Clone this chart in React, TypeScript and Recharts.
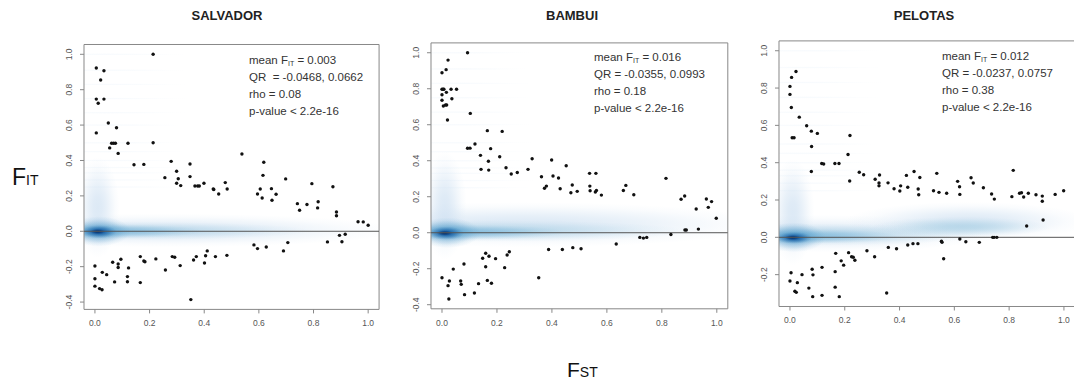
import React from 'react';
import { ScatterChart, Scatter, XAxis, YAxis, ReferenceArea, ReferenceLine } from 'recharts';

// ---------- data ----------
const X_TICKS = [0, 0.2, 0.4, 0.6, 0.8, 1.0];
const X_DOMAIN: [number, number] = [-0.04, 1.04];
const Y_TICKS_A = [-0.4, -0.2, 0, 0.2, 0.4, 0.6, 0.8, 1.0];
const Y_TICKS_B = [-0.2, 0, 0.2, 0.4, 0.6, 0.8, 1.0];

const salvadorPoints: [number, number][] = [
  [0.213, 1.0], [0.005, 0.923], [0.033, 0.907], [0.021, 0.855], [0.005, 0.747], [0.033, 0.747], [0.012, 0.723],
  [0.049, 0.612], [0.079, 0.585], [0.005, 0.556], [0.061, 0.497], [0.068, 0.497], [0.075, 0.497], [0.054, 0.471],
  [0.121, 0.497], [0.085, 0.44], [0.213, 0.5], [0.143, 0.376], [0.179, 0.378], [0.279, 0.395], [0.348, 0.38],
  [0.256, 0.303], [0.299, 0.339], [0.305, 0.297], [0.299, 0.271], [0.314, 0.258], [0.348, 0.309], [0.366, 0.256],
  [0.376, 0.256], [0.382, 0.256], [0.399, 0.271], [0.433, 0.239], [0.435, 0.236], [0.453, 0.211], [0.477, 0.275],
  [0.484, 0.239], [0.538, 0.437], [0.618, 0.39], [0.615, 0.316], [0.605, 0.239], [0.595, 0.211], [0.612, 0.188],
  [0.646, 0.241], [0.648, 0.175], [0.663, 0.209], [0.698, 0.296], [0.741, 0.156], [0.749, 0.119], [0.776, 0.151],
  [0.794, 0.269], [0.817, 0.167], [0.815, 0.132], [0.871, 0.252], [0.884, 0.109], [0.884, 0.088], [0.963, 0.054],
  [0.982, 0.053], [1.0, 0.034],
  [0.0, -0.196], [0.0, -0.268], [0.0, -0.31], [0.017, -0.324], [0.026, -0.33], [0.027, -0.232], [0.043, -0.245],
  [0.065, -0.175], [0.072, -0.286], [0.085, -0.185], [0.085, -0.205], [0.095, -0.158], [0.123, -0.207],
  [0.119, -0.256], [0.119, -0.285], [0.166, -0.143], [0.166, -0.29], [0.179, -0.168], [0.183, -0.172],
  [0.223, -0.156], [0.258, -0.219], [0.283, -0.143], [0.292, -0.147], [0.312, -0.194], [0.351, -0.386],
  [0.361, -0.162], [0.371, -0.143], [0.401, -0.179], [0.405, -0.138], [0.411, -0.111], [0.441, -0.143],
  [0.483, -0.136], [0.582, -0.077], [0.595, -0.098], [0.627, -0.089], [0.69, -0.111], [0.706, -0.064],
  [0.851, -0.06], [0.895, -0.023], [0.916, -0.017], [0.904, -0.059],
];

const bambuiPoints: [number, number][] = [
  [0.093, 1.0], [0.022, 0.959], [0.015, 0.906], [0.0, 0.889], [0.0, 0.797], [0.004, 0.797], [0.007, 0.797],
  [0.016, 0.78], [0.033, 0.797], [0.053, 0.797], [0.0, 0.767], [0.036, 0.744], [0.0, 0.736], [0.005, 0.704],
  [0.013, 0.71], [0.017, 0.71], [0.02, 0.626], [0.103, 0.663], [0.165, 0.567], [0.219, 0.563], [0.093, 0.469],
  [0.102, 0.47], [0.12, 0.493], [0.177, 0.467], [0.14, 0.43], [0.169, 0.397], [0.21, 0.422], [0.142, 0.352],
  [0.17, 0.348], [0.233, 0.361], [0.252, 0.326], [0.274, 0.335], [0.313, 0.352], [0.328, 0.411], [0.362, 0.311],
  [0.373, 0.247], [0.38, 0.259], [0.399, 0.404], [0.404, 0.315], [0.424, 0.304], [0.43, 0.244], [0.452, 0.372],
  [0.474, 0.265], [0.469, 0.222], [0.492, 0.23], [0.537, 0.33], [0.56, 0.33], [0.538, 0.259], [0.539, 0.233],
  [0.558, 0.226], [0.562, 0.235], [0.58, 0.209], [0.66, 0.235], [0.669, 0.263], [0.698, 0.211], [0.815, 0.302],
  [0.87, 0.186], [0.883, 0.204], [0.925, 0.132], [0.962, 0.187], [0.969, 0.141], [0.981, 0.173], [0.998, 0.08],
  [0.933, 0.02], [0.884, 0.015], [0.889, 0.015], [0.833, -0.01],
  [0.0, -0.25], [0.022, -0.294], [0.027, -0.268], [0.025, -0.368], [0.041, -0.202], [0.068, -0.268],
  [0.07, -0.287], [0.08, -0.174], [0.082, -0.344], [0.118, -0.335], [0.133, -0.283], [0.148, -0.142],
  [0.159, -0.114], [0.159, -0.189], [0.171, -0.131], [0.165, -0.265], [0.18, -0.281], [0.195, -0.144],
  [0.228, -0.194], [0.237, -0.124], [0.245, -0.106], [0.352, -0.25], [0.388, -0.093], [0.438, -0.093],
  [0.476, -0.083], [0.506, -0.089], [0.634, -0.063], [0.72, -0.026], [0.733, -0.03], [0.745, -0.026],
];

const pelotasPoints: [number, number][] = [
  [0.022, 0.889], [0.006, 0.857], [0.0, 0.809], [0.0, 0.766], [0.005, 0.696], [0.008, 0.534], [0.015, 0.534],
  [0.034, 0.644], [0.061, 0.598], [0.078, 0.569], [0.1, 0.557], [0.079, 0.487], [0.078, 0.353], [0.116, 0.396],
  [0.123, 0.393], [0.164, 0.396], [0.179, 0.396], [0.212, 0.444], [0.219, 0.546], [0.218, 0.302], [0.253, 0.349],
  [0.269, 0.335], [0.311, 0.311], [0.327, 0.334], [0.325, 0.291], [0.325, 0.276], [0.358, 0.292], [0.38, 0.26],
  [0.401, 0.248], [0.404, 0.276], [0.425, 0.332], [0.43, 0.268], [0.453, 0.353], [0.468, 0.259], [0.47, 0.228],
  [0.474, 0.321], [0.524, 0.25], [0.536, 0.343], [0.544, 0.241], [0.572, 0.236], [0.612, 0.3], [0.619, 0.271],
  [0.62, 0.23], [0.661, 0.319], [0.669, 0.291], [0.706, 0.266], [0.736, 0.232], [0.746, 0.205], [0.815, 0.359],
  [0.81, 0.218], [0.838, 0.236], [0.845, 0.239], [0.853, 0.216], [0.87, 0.236], [0.898, 0.228], [0.921, 0.221],
  [0.921, 0.193], [0.968, 0.23], [0.999, 0.25], [0.924, 0.093], [0.864, 0.061],
  [0.553, -0.021], [0.555, -0.027], [0.62, -0.009], [0.642, -0.024], [0.691, -0.027], [0.74, 0.0], [0.745, 0.0],
  [0.755, 0.0], [0.561, -0.115], [0.43, -0.041], [0.449, -0.034], [0.467, -0.034], [0.359, -0.054],
  [0.389, -0.061], [0.281, -0.072], [0.309, -0.104], [0.167, -0.086], [0.214, -0.082], [0.225, -0.104],
  [0.231, -0.107], [0.237, -0.123], [0.187, -0.126], [0.196, -0.149], [0.117, -0.161], [0.081, -0.171],
  [0.084, -0.201], [0.044, -0.2], [0.004, -0.19], [0.0, -0.234], [0.027, -0.243], [0.018, -0.289],
  [0.023, -0.295], [0.069, -0.272], [0.083, -0.318], [0.117, -0.311], [0.165, -0.184], [0.165, -0.267],
  [0.18, -0.318], [0.353, -0.298],
];

// density regions (data coordinates) with intensity level
type D = { x1: number; x2: number; y1: number; y2: number; level: number };
const streakLevels = [1.0, 0.91, 0.83, 0.75, 0.67, 0.6, 0.5, 0.45, 0.4, 0.36, 0.33, 0.29, 0.25];
const salvadorDensity: D[] = [
  { x1: -0.6, x2: 1.12, y1: -0.09, y2: 0.1, level: 1 },
  { x1: -0.07, x2: 0.09, y1: -0.15, y2: 0.42, level: 1 },
  { x1: -0.6, x2: 0.8, y1: -0.05, y2: 0.055, level: 2 },
  { x1: -0.3, x2: 0.4, y1: -0.04, y2: 0.04, level: 3 },
  { x1: -0.1, x2: 0.13, y1: -0.085, y2: 0.085, level: 4 },
  { x1: -0.05, x2: 0.08, y1: -0.04, y2: 0.035, level: 6 },
  { x1: -0.02, x2: 0.04, y1: -0.018, y2: 0.014, level: 7 },
];
const bambuiDensity: D[] = [
  { x1: -0.6, x2: 1.2, y1: -0.08, y2: 0.17, level: 1 },
  { x1: -0.07, x2: 0.09, y1: -0.15, y2: 0.45, level: 1 },
  { x1: -0.6, x2: 0.9, y1: -0.05, y2: 0.07, level: 2 },
  { x1: -0.3, x2: 0.45, y1: -0.04, y2: 0.045, level: 3 },
  { x1: -0.1, x2: 0.14, y1: -0.085, y2: 0.085, level: 4 },
  { x1: -0.05, x2: 0.08, y1: -0.04, y2: 0.035, level: 6 },
  { x1: -0.02, x2: 0.04, y1: -0.018, y2: 0.014, level: 7 },
];
const pelotasDensity: D[] = [
  { x1: -0.5, x2: 0.75, y1: -0.08, y2: 0.12, level: 1 },
  { x1: 0.2, x2: 1.1, y1: -0.02, y2: 0.19, level: 1 },
  { x1: -0.07, x2: 0.09, y1: -0.15, y2: 0.42, level: 1 },
  { x1: -0.5, x2: 0.7, y1: -0.045, y2: 0.075, level: 2 },
  { x1: 0.3, x2: 0.95, y1: 0.0, y2: 0.11, level: 2 },
  { x1: -0.3, x2: 0.4, y1: -0.035, y2: 0.045, level: 3 },
  { x1: -0.1, x2: 0.13, y1: -0.08, y2: 0.08, level: 4 },
  { x1: -0.05, x2: 0.08, y1: -0.035, y2: 0.03, level: 6 },
  { x1: -0.02, x2: 0.04, y1: -0.016, y2: 0.013, level: 7 },
];

const LEVEL_COLORS = ['#deebf7', '#c6dbef', '#9ecae1', '#6baed6', '#4292c6', '#2171b5', '#08519c', '#08306b'];
const LEVEL_OPACITY = [0.22, 0.6, 0.6, 0.6, 0.65, 0.8, 0.85, 0.9];

const FONT = '"Liberation Sans", Arial, sans-serif';

const Blob = (props: any) => {
  const { x, y, width, height, level, gid, clipPath } = props;
  if (x == null || y == null) return null;
  const w = Math.abs(width), h = Math.abs(height);
  const left = width < 0 ? x + width : x;
  const top = height < 0 ? y + height : y;
  const c = LEVEL_COLORS[level];
  const o = LEVEL_OPACITY[level];
  const stops = [[0, 1], [0.2, 0.92], [0.4, 0.7], [0.6, 0.42], [0.8, 0.15], [1, 0]];
  return (
    <g clipPath={clipPath}>
      <defs>
        <radialGradient id={gid}>
          {stops.map(([off, a], i) => (
            <stop key={i} offset={off} stopColor={c} stopOpacity={o * a} />
          ))}
        </radialGradient>
      </defs>
      <ellipse cx={left + w / 2} cy={top + h / 2} rx={w / 2} ry={h / 2} fill={`url(#${gid})`} />
    </g>
  );
};

const Dot = (props: any) => <circle cx={props.cx} cy={props.cy} r={1.7} fill="#111" />;

const XTick = (props: any) => {
  const { x, y, payload } = props;
  return (
    <text x={x} y={y + 11} textAnchor="middle" fontSize={8.5} fill="#555" fontFamily={FONT}>
      {Number(payload.value).toFixed(1)}
    </text>
  );
};
const YTick = (props: any) => {
  const { x, y, payload } = props;
  const bx = x - 6;
  return (
    <text x={bx} y={y} textAnchor="middle" fontSize={8.5} fill="#555" fontFamily={FONT}
      transform={`rotate(-90, ${bx}, ${y})`}>
      {Number(payload.value).toFixed(1)}
    </text>
  );
};

type Box = { left: number; top: number; w: number; h: number };

function Panel({ id, box, yDomain, yTicks, points, density }: {
  id: string; box: Box; yDomain: [number, number]; yTicks: number[]; points: [number, number][]; density: D[];
}) {
  const YW = 40, XH = 40;
  const width = YW + box.w + 4;
  const height = box.top + box.h + XH;
  const data = points.map(([x, y]) => ({ x, y }));
  const streaks: D[] = streakLevels.filter((v) => v <= yDomain[1]).map((v) => ({ x1: -0.25, x2: 0.35, y1: v - 0.007, y2: v + 0.007, level: 0 }));
  const allDensity = [...streaks, ...density];
  return (
    <div style={{ position: 'absolute', left: box.left - YW, top: 0 }}>
      <ScatterChart width={width} height={height} margin={{ top: box.top, right: 4, bottom: 0, left: 0 }}>
        <XAxis type="number" dataKey="x" domain={X_DOMAIN} ticks={X_TICKS} allowDataOverflow axisLine={false}
          tickLine={{ stroke: '#888' }} tickSize={4} height={XH} tick={<XTick />} interval={0} />
        <YAxis type="number" dataKey="y" domain={yDomain} ticks={yTicks} allowDataOverflow axisLine={false}
          tickLine={{ stroke: '#888' }} tickSize={4} width={YW} tick={<YTick />} interval={0} />
        {allDensity.map((d, i) => (
          <ReferenceArea key={i} x1={d.x1} x2={d.x2} y1={d.y1} y2={d.y2} ifOverflow="hidden"
            shape={(p: any) => <Blob {...p} level={d.level} gid={`${id}-d${i}`} />} />
        ))}
        <ReferenceLine y={0} stroke="#555" strokeWidth={1} ifOverflow="hidden" />
        <ReferenceArea x1={X_DOMAIN[0]} x2={X_DOMAIN[1]} y1={yDomain[0]} y2={yDomain[1]} fill="none"
          fillOpacity={0} stroke="#888" strokeWidth={1} ifOverflow="visible" />
        <Scatter data={data} isAnimationActive={false} shape={Dot} />
      </ScatterChart>
    </div>
  );
}

const Sub = ({ children }: { children: string }) => (
  <tspan fontSize={7} dy={2}>{children}</tspan>
);

function Stats({ x, y, mean, qr, rho }: { x: number; y: number; mean: string; qr: string; rho: string }) {
  const lh = 17;
  return (
    <g fontFamily={FONT} fontSize={11.5} fill="#333" style={{ whiteSpace: 'pre' }}>
      <text x={x} y={y}>mean F<Sub>IT</Sub><tspan dy={-2}>{` = ${mean}`}</tspan></text>
      <text x={x} y={y + lh}>{qr}</text>
      <text x={x} y={y + lh * 2}>{`rho = ${rho}`}</text>
      <text x={x} y={y + lh * 3}>p-value &lt; 2.2e-16</text>
    </g>
  );
}

export default function App() {
  return (
    <div style={{ position: 'absolute', left: 0, top: 0, width: 1074, height: 387, background: '#fff', overflow: 'hidden' }}>
      <Panel id="sal" box={{ left: 84.1, top: 44.5, w: 295.1, h: 264.9 }} yDomain={[-0.4414, 1.0554]} yTicks={Y_TICKS_A}
        points={salvadorPoints} density={salvadorDensity} />
      <Panel id="bam" box={{ left: 430.7, top: 42.9, w: 296.8, h: 265.9 }} yDomain={[-0.4227, 1.0547]} yTicks={Y_TICKS_A}
        points={bambuiPoints} density={bambuiDensity} />
      <Panel id="pel" box={{ left: 779, top: 40.9, w: 295.9, h: 265.6 }} yDomain={[-0.3707, 1.0527]} yTicks={Y_TICKS_B}
        points={pelotasPoints} density={pelotasDensity} />
      <svg width={1074} height={387} style={{ position: 'absolute', left: 0, top: 0, pointerEvents: 'none' }}>
        <g fontFamily={FONT} fontWeight="bold" fontSize={13} fill="#222" textAnchor="middle">
          <text x={227} y={20}>SALVADOR</text>
          <text x={572} y={20}>BAMBUI</text>
          <text x={924} y={20}>PELOTAS</text>
        </g>
        <Stats x={249} y={64} mean="0.003" qr={'QR\u00a0 = -0.0468, 0.0662'} rho="0.08" />
        <Stats x={594} y={61} mean="0.016" qr="QR = -0.0355, 0.0993" rho="0.18" />
        <Stats x={942} y={60} mean="0.012" qr="QR = -0.0237, 0.0757" rho="0.38" />
        <text x={12} y={185} fontFamily={FONT} fontSize={23} fill="#111">F<tspan fontSize={14}>IT</tspan></text>
        <text x={567} y={377} fontFamily={FONT} fontSize={21} fill="#111">F<tspan fontSize={14}>ST</tspan></text>
      </svg>
    </div>
  );
}
